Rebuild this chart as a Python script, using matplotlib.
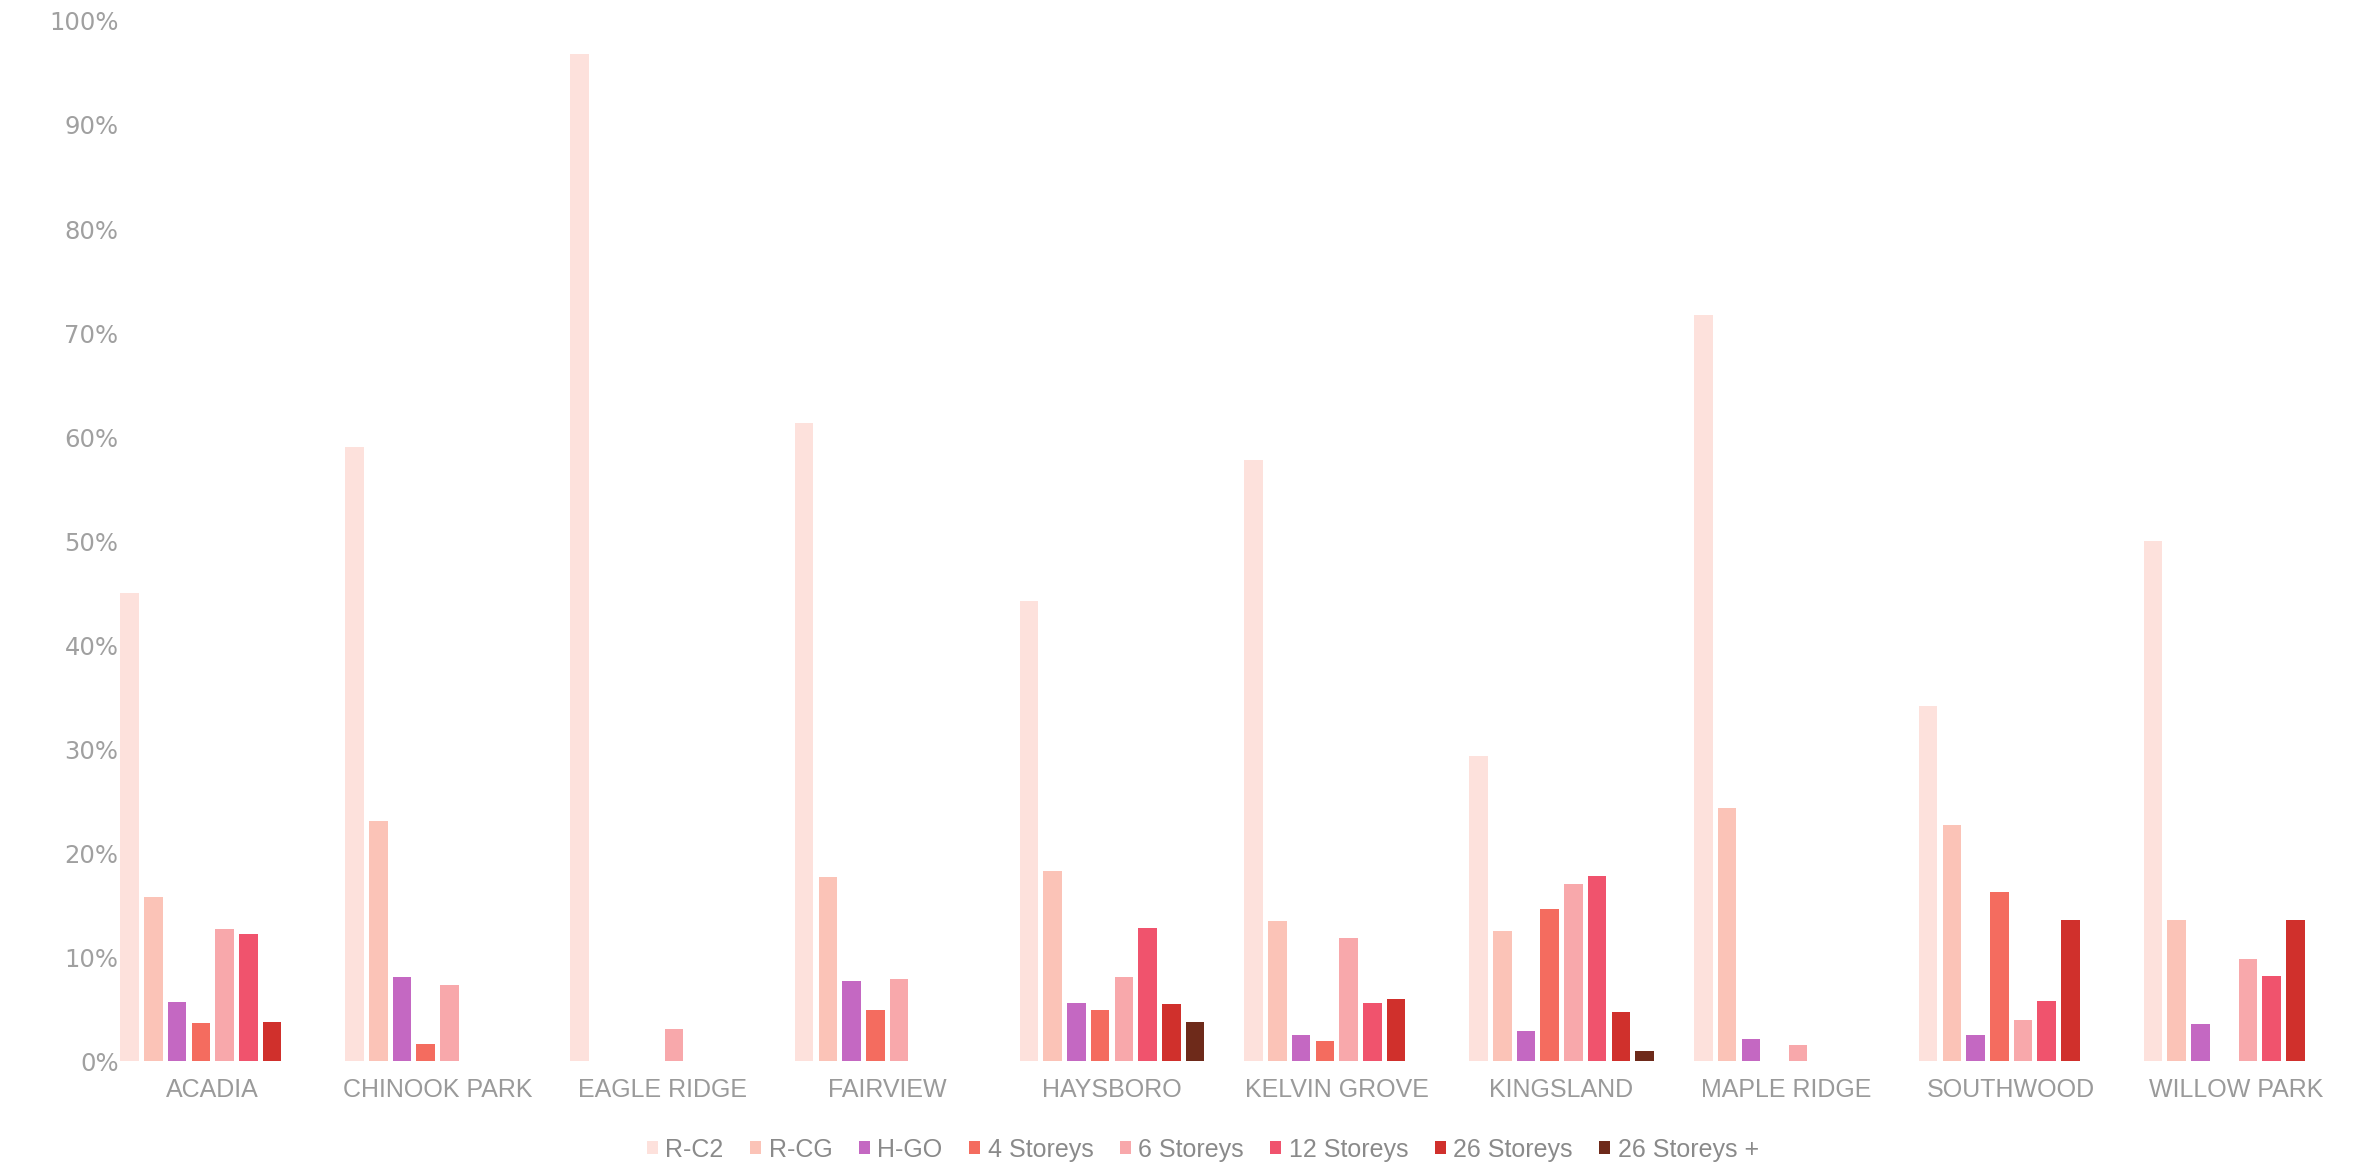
import numpy as np
import matplotlib
matplotlib.use("Agg")
import matplotlib.pyplot as plt

neighbourhoods = ["ACADIA", "CHINOOK PARK", "EAGLE RIDGE", "FAIRVIEW", "HAYSBORO",
                  "KELVIN GROVE", "KINGSLAND", "MAPLE RIDGE", "SOUTHWOOD", "WILLOW PARK"]

# share of parcels by zoning / height category (%)
r_c2 = [45.0, 59.0, 96.8, 61.3, 44.2, 57.8, 29.3, 71.7, 34.1, 50.0]
r_cg = [15.8, 23.1, 0, 17.7, 18.3, 13.5, 12.5, 24.3, 22.7, 13.6]
h_go = [5.7, 8.1, 0, 7.7, 5.6, 2.5, 2.9, 2.1, 2.5, 3.6]
storeys_4 = [3.7, 1.6, 0, 4.9, 4.9, 1.9, 14.6, 0, 16.3, 0]
storeys_6 = [12.7, 7.3, 3.1, 7.9, 8.1, 11.8, 17.0, 1.5, 3.9, 9.8]
storeys_12 = [12.2, 0, 0, 0, 12.8, 5.6, 17.8, 0, 5.8, 8.2]
storeys_26 = [3.8, 0, 0, 0, 5.5, 6.0, 4.7, 0, 13.6, 13.6]
storeys_26_plus = [0, 0, 0, 0, 3.8, 0, 1.0, 0, 0, 0]

series_names = ["R-C2", "R-CG", "H-GO", "4 Storeys", "6 Storeys",
                "12 Storeys", "26 Storeys", "26 Storeys +"]
series_values = [r_c2, r_cg, h_go, storeys_4, storeys_6,
                 storeys_12, storeys_26, storeys_26_plus]
colors = ["#fde1dc", "#fbc3b7", "#c468c2", "#f46c5f", "#f8a8ab",
          "#f0536d", "#d0302c", "#6e2a1a"]

fig = plt.figure(figsize=(23.63, 11.66), dpi=100)
ax = fig.add_axes([0.0478, 0.090, 0.946, 0.892])

x = np.arange(len(neighbourhoods))
slot = 0.1055
width = 0.0825
for i, (name, vals, col) in enumerate(zip(series_names, series_values, colors)):
    ax.bar(x + (i - 3.5) * slot, vals, width=width, color=col, label=name)

ax.set_xlim(-0.444, 9.5)
ax.set_ylim(0, 100)
ax.set_yticks(np.arange(0, 101, 10))
ax.set_yticklabels([f"{v}%" for v in range(0, 101, 10)],
                   fontsize=17.5, color="#a0a0a0", family="DejaVu Sans")
ax.set_xticks(x)
ax.set_xticklabels(neighbourhoods, fontsize=18, color="#9a9a9a",
                   family="Liberation Sans")
ax.tick_params(axis="both", length=0)
ax.tick_params(axis="x", pad=12)
ax.tick_params(axis="y", pad=-4)
for s in ax.spines.values():
    s.set_visible(False)

leg = fig.legend(loc="center", bbox_to_anchor=(0.509, 0.014), ncol=8,
                 frameon=False, handlelength=0.45, handleheight=0.45,
                 handletextpad=0.3, columnspacing=1.05,
                 prop={"family": "Liberation Sans", "size": 18})
for t in leg.get_texts():
    t.set_color("#8a8a8a")

fig.savefig("out.png", dpi=100)
